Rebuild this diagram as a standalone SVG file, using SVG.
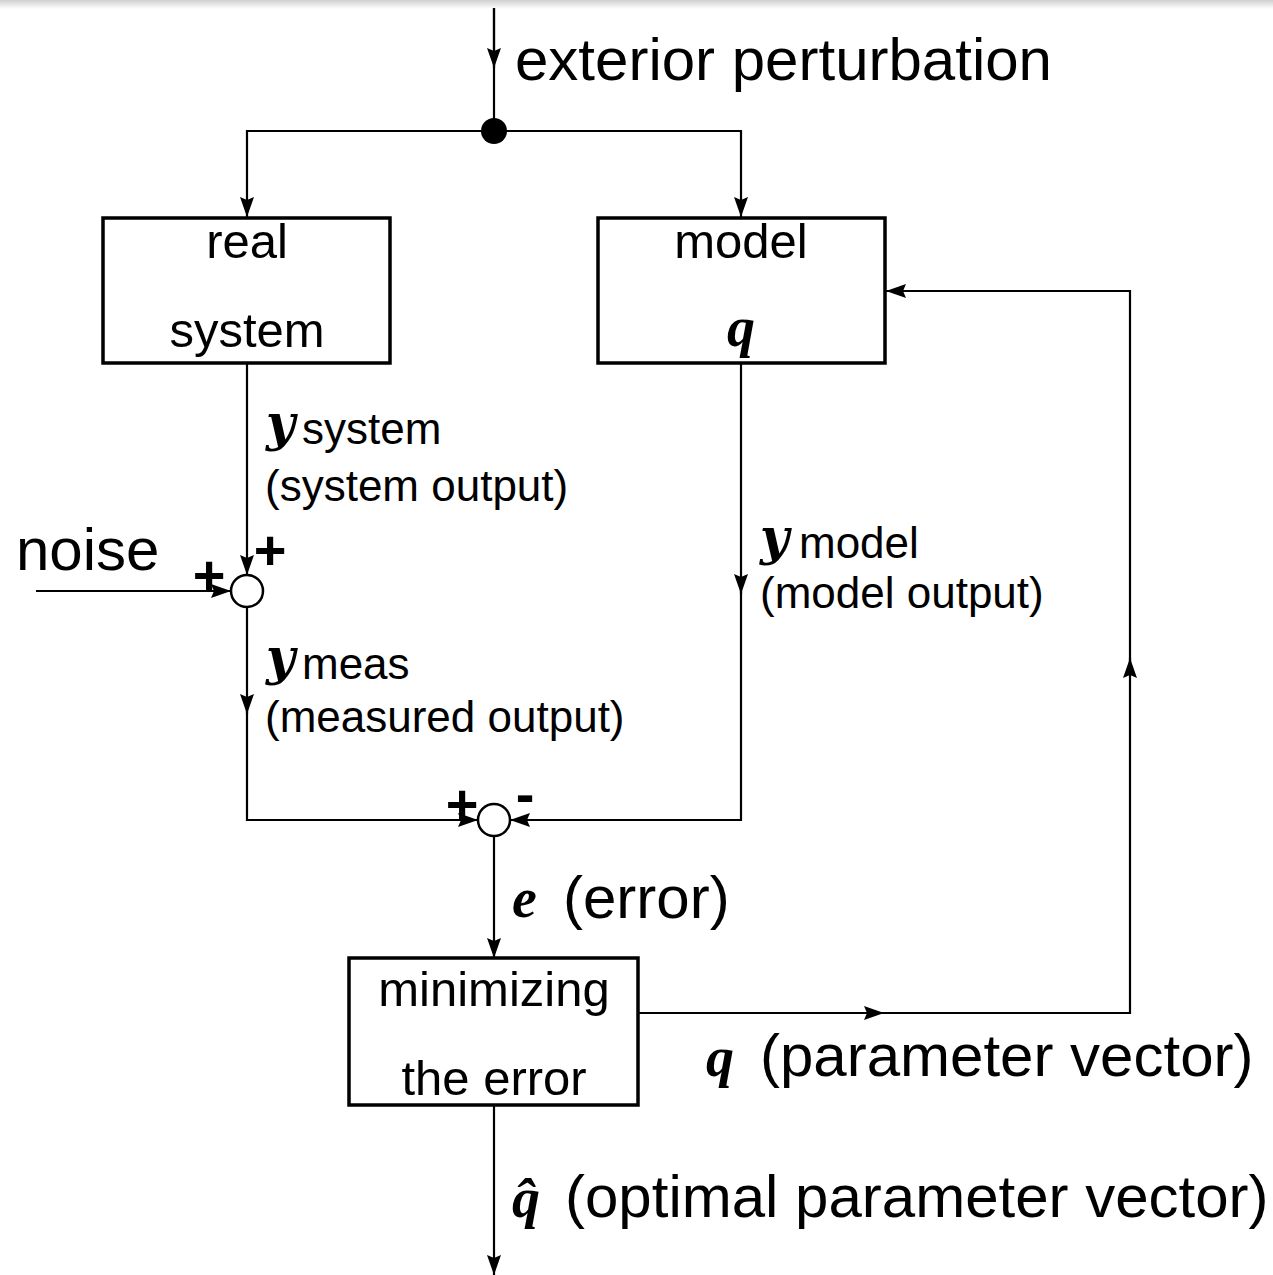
<svg xmlns="http://www.w3.org/2000/svg" width="1273" height="1275" viewBox="0 0 1273 1275">
  <defs>
    <linearGradient id="topShade" x1="0" y1="0" x2="0" y2="1">
      <stop offset="0" stop-color="#cfcfcf"/>
      <stop offset="1" stop-color="#ffffff"/>
    </linearGradient>
    <marker id="arrow" viewBox="0 0 20 14" refX="20" refY="7" markerWidth="20" markerHeight="14" markerUnits="userSpaceOnUse" orient="auto">
      <path d="M0,0 L20,7 L0,14 L3,7 Z" fill="#000"/>
    </marker>
  </defs>
  <style>
    .ln { fill: none; stroke: #000; stroke-width: 2.2; }
    .box { fill: #fff; stroke: #000; stroke-width: 3.5; }
    .sum { fill: #fff; stroke: #000; stroke-width: 2.5; }
    .t { font-family: "Liberation Sans", Arial, sans-serif; fill: #000; }
    .big { font-size: 60px; }
    .mid { font-size: 49px; }
    .lab { font-size: 44px; }
    .sign { font-family: "Liberation Sans", Arial, sans-serif; font-weight: bold; font-size: 56px; }
    .m { font-family: "Liberation Serif", "Times New Roman", serif; font-style: italic; font-weight: bold; fill: #000; }
    .my { font-family: "DejaVu Serif", serif; font-style: italic; font-weight: bold; font-size: 50px; fill: #000; }
  </style>

  <rect x="0" y="0" width="1273" height="9" fill="url(#topShade)"/>

  <!-- connectors -->
  <g id="connectors">
    <!-- exterior perturbation input -->
    <line class="ln" x1="494" y1="8" x2="494" y2="131"/>
    <line class="ln" x1="494" y1="8" x2="494" y2="68" marker-end="url(#arrow)"/>
    <!-- split to real system and model -->
    <polyline class="ln" points="494,131 247,131 247,217" marker-end="url(#arrow)"/>
    <polyline class="ln" points="494,131 741,131 741,217" marker-end="url(#arrow)"/>
    <!-- system output to noise junction -->
    <line class="ln" x1="247" y1="363" x2="247" y2="575" marker-end="url(#arrow)"/>
    <!-- noise input -->
    <line class="ln" x1="36" y1="591" x2="231" y2="591" marker-end="url(#arrow)"/>
    <!-- measured output to error junction -->
    <line class="ln" x1="247" y1="607" x2="247" y2="714" marker-end="url(#arrow)"/>
    <polyline class="ln" points="247,705 247,820 478,820" marker-end="url(#arrow)"/>
    <!-- model output to error junction -->
    <line class="ln" x1="741" y1="363" x2="741" y2="594" marker-end="url(#arrow)"/>
    <polyline class="ln" points="741,590 741,820 510,820" marker-end="url(#arrow)"/>
    <!-- error to minimizer -->
    <line class="ln" x1="494" y1="836" x2="494" y2="958" marker-end="url(#arrow)"/>
    <!-- parameter feedback loop -->
    <line class="ln" x1="638" y1="1013" x2="884" y2="1013" marker-end="url(#arrow)"/>
    <polyline class="ln" points="878,1013 1130,1013 1130,658" marker-end="url(#arrow)"/>
    <polyline class="ln" points="1130,662 1130,291 886,291" marker-end="url(#arrow)"/>
    <!-- optimal parameter output -->
    <line class="ln" x1="494" y1="1105" x2="494" y2="1275" marker-end="url(#arrow)"/>
  </g>

  <!-- branch point -->
  <g id="branch">
    <circle cx="494" cy="131" r="13" fill="#000"/>
  </g>

  <g id="real-system">
    <rect class="box" x="103" y="218" width="287" height="145"/>
    <text class="t mid" x="247" y="258" text-anchor="middle">real</text>
    <text class="t mid" x="247" y="347" text-anchor="middle">system</text>
  </g>

  <g id="model">
    <rect class="box" x="598" y="218" width="287" height="145"/>
    <text class="t mid" x="741" y="258" text-anchor="middle">model</text>
    <text class="m" x="741" y="346" font-size="56" text-anchor="middle">q</text>
  </g>

  <g id="noise-junction">
    <circle class="sum" cx="247" cy="591" r="16"/>
    <text class="sign" x="270" y="569" text-anchor="middle">+</text>
    <text class="sign" x="209" y="594" text-anchor="middle">+</text>
  </g>

  <g id="error-junction">
    <circle class="sum" cx="494" cy="820" r="16"/>
    <text class="sign" x="462" y="823" text-anchor="middle">+</text>
    <text class="sign" x="525" y="813" text-anchor="middle">-</text>
  </g>

  <g id="minimizer">
    <rect class="box" x="349" y="958" width="289" height="147"/>
    <text class="t mid" x="494" y="1006" text-anchor="middle">minimizing</text>
    <text class="t mid" x="494" y="1095" text-anchor="middle">the error</text>
  </g>

  <!-- labels -->
  <g id="labels">
    <text class="t big" x="515" y="80">exterior perturbation</text>
    <text class="t big" x="16" y="570">noise</text>

    <text class="my" x="266" y="440">y</text>
    <text class="t lab" x="302" y="444">system</text>
    <text class="t lab" x="265" y="501">(system output)</text>

    <text class="my" x="760" y="554">y</text>
    <text class="t lab" x="799" y="558">model</text>
    <text class="t lab" x="760" y="608">(model output)</text>

    <text class="my" x="266" y="674">y</text>
    <text class="t lab" x="302" y="679">meas</text>
    <text class="t lab" x="265" y="732">(measured output)</text>

    <text class="m" x="512" y="917" font-size="56">e</text>
    <text class="t big" x="563" y="918">(error)</text>

    <text class="m" x="706" y="1076" font-size="56">q</text>
    <text class="t big" x="760" y="1076">(parameter vector)</text>

    <text class="m" x="512" y="1217" font-size="56">q̂</text>
    <text class="t big" x="565" y="1217">(optimal parameter vector)</text>
  </g>
</svg>
